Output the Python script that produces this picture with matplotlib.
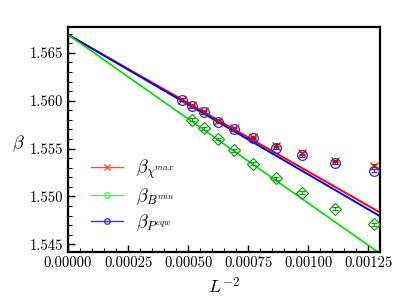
import numpy as np
import matplotlib
matplotlib.use("Agg")
import matplotlib.pyplot as plt
from matplotlib.ticker import MultipleLocator, FormatStrFormatter

plt.rcParams['font.family'] = 'serif'
plt.rcParams['font.serif'] = ['cmr10', 'DejaVu Serif']
plt.rcParams['mathtext.fontset'] = 'cm'
plt.rcParams['axes.formatter.use_mathtext'] = True

# lattice sizes, x axis is L^-2
L_vals = np.array([46, 44, 42, 40, 38, 36, 34, 32, 30, 28])
L_green = np.array([44, 42, 40, 38, 36, 34, 32, 30, 28])

beta_chi = [1.5601, 1.5595, 1.5589, 1.5579, 1.5571, 1.5562, 1.5553, 1.5545, 1.5537, 1.5532]
beta_B = [1.5580, 1.5571, 1.5560, 1.5548, 1.5534, 1.5519, 1.5504, 1.5487, 1.5471]
beta_P = [1.5601, 1.5594, 1.5588, 1.5578, 1.5570, 1.5561, 1.5551, 1.5543, 1.5535, 1.5527]

err_chi = [0.00015] * 10
err_B = [0.00015] * 9
err_P = [0.00015] * 10

# linear extrapolation lines: intercept, slope
fit_chi = (1.5669, -14.3)
fit_B = (1.5669, -17.6)
fit_P = (1.5669, -14.6)

fig, ax = plt.subplots(figsize=(4.15, 2.97), dpi=100)
fig.subplots_adjust(left=0.164, right=0.916, top=0.909, bottom=0.152)

xl = np.array([0.0, 0.0013])

#fit lines
ax.plot(xl, fit_chi[0] + fit_chi[1]*xl, color='#ff0000', lw=1.4, zorder=2)
ax.plot(xl, fit_P[0] + fit_P[1]*xl, color='#0000e0', lw=1.4, zorder=2)
ax.plot(xl, fit_B[0] + fit_B[1]*xl, color='#00dd00', lw=1.2, zorder=2)

#data points
ax.errorbar(1.0/L_vals**2, beta_chi, yerr=err_chi, fmt='x', color='#c01010', ms=6,
            mew=0.8, capsize=2, elinewidth=0.8, zorder=4)
ax.errorbar(1.0/L_green**2, beta_B, yerr=err_B, fmt='D', color='#10a010', mfc='none', ms=6.5,
            mew=0.9, capsize=2, elinewidth=0.8, zorder=4)
ax.errorbar(1.0/L_vals**2, beta_P, yerr=err_P, fmt='o', color='#2a2ad0', mfc='none', ms=7,
            mew=0.9, capsize=2, elinewidth=0.8, zorder=3)

#legend proxies
h1, = ax.plot([], [], color='#ff5050', marker='x', ms=4, lw=1.0)
h2, = ax.plot([], [], color='#55ee55', marker='o', mfc='none', ms=4, lw=1.0)
h3, = ax.plot([], [], color='#3333ee', marker='o', mfc='none', ms=4, lw=1.0)
ax.legend([h1, h2, h3],
          [r'$\beta_{\chi^{max}}$', r'$\beta_{B^{min}}$', r'$\beta_{P^{eqw}}$'],
          loc='upper left', bbox_to_anchor=(0.02, 0.49), frameon=False,
          fontsize=13, handlelength=1.8, handletextpad=0.7, labelspacing=0.3)

ax.set_xlim(0.0, 0.0013)
ax.set_ylim(1.5442, 1.5677)

ax.xaxis.set_major_locator(MultipleLocator(0.00025))
ax.xaxis.set_minor_locator(MultipleLocator(0.00005))
ax.yaxis.set_major_locator(MultipleLocator(0.005))
ax.yaxis.set_minor_locator(MultipleLocator(0.001))
ax.xaxis.set_major_formatter(FormatStrFormatter('%.5f'))
ax.yaxis.set_major_formatter(FormatStrFormatter('%.3f'))

ax.tick_params(which='both', direction='in', labelsize=10.5)
ax.tick_params(which='major', length=5, width=1.0)
ax.tick_params(which='minor', length=3, width=0.8)
for s in ax.spines.values():
    s.set_linewidth(1.6)

ax.set_xlabel(r'$L^{-2}$', fontsize=13)
ax.set_ylabel(r'$\beta$', fontsize=13, rotation=0, ha='center', va='center')
ax.yaxis.set_label_coords(-0.16, 0.48)

fig.savefig('out.png', dpi=100)
